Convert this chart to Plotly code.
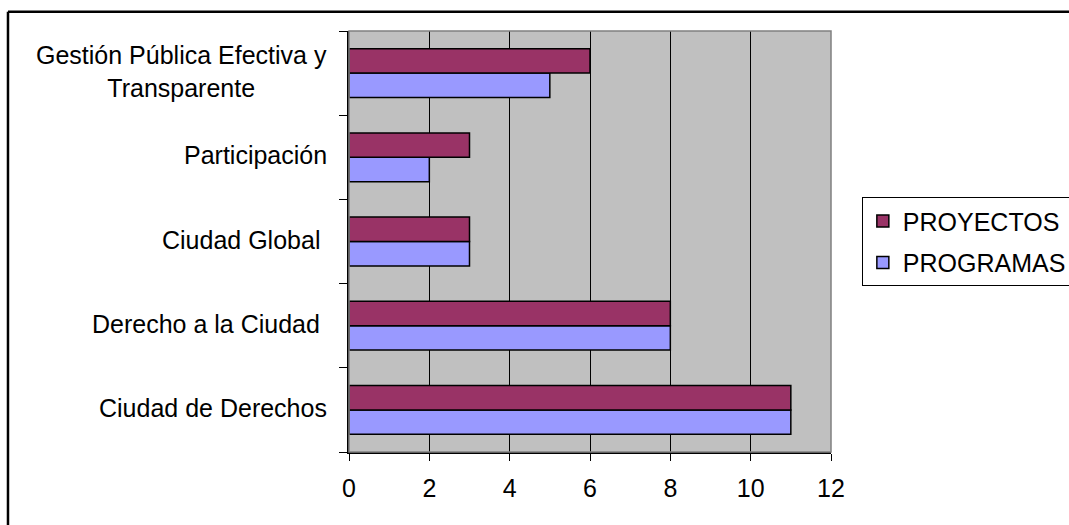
import plotly.graph_objects as go

categories = ["Ciudad de Derechos", "Derecho a la Ciudad\u00a0", "Ciudad Global\u00a0",
              "Participación", "Gestión Pública Efectiva y<br>Transparente"]
programas = [11, 8, 3, 2, 5]
proyectos = [11, 8, 3, 3, 6]
x_ticks = [0, 2, 4, 6, 8, 10, 12]

FONT = "Arial, Liberation Sans, sans-serif"
FS = 25

fig = go.Figure()
fig.add_trace(go.Bar(y=categories, x=programas, orientation="h", name="PROGRAMAS",
                     legendgroup="b", legendrank=2,
                     marker=dict(color="#9999FF", line=dict(color="black", width=1.5))))
fig.add_trace(go.Bar(y=categories, x=proyectos, orientation="h", name="PROYECTOS",
                     legendgroup="a", legendrank=1,
                     marker=dict(color="#993366", line=dict(color="black", width=1.5))))

# category labels as centred annotations
annotations = []
for c in categories:
    annotations.append(dict(x=0, xref="paper", y=c, yref="y", text=c,
                            xanchor="right", yanchor="middle", align="center",
                            xshift=-20, yshift=2, showarrow=False,
                            font=dict(family=FONT, size=FS, color="black")))

# plot frame (gray) and outer chart border
shapes = [
    dict(type="rect", xref="x domain", yref="y domain", x0=0, x1=1, y0=0, y1=1,
         line=dict(color="#808080", width=1.5), fillcolor="rgba(0,0,0,0)", layer="above"),
    dict(type="line", xref="paper", yref="paper", x0=-0.7075, x1=1.6, y0=1.046, y1=1.046,
         line=dict(color="black", width=2.5)),
    dict(type="line", xref="paper", yref="paper", x0=-0.7075, x1=-0.7075, y0=1.046, y1=-0.5,
         line=dict(color="black", width=2.5)),
]

fig.update_layout(
    width=1069, height=525,
    margin=dict(l=349, r=238, t=31, b=73, autoexpand=False),
    paper_bgcolor="white", plot_bgcolor="#C0C0C0",
    barmode="group", bargap=0.42, bargroupgap=0,
    font=dict(family=FONT, size=FS, color="black"),
    showlegend=True,
    legend=dict(x=1.064, xanchor="left", y=0.605, yanchor="top",
                traceorder="grouped", tracegroupgap=6,
                bordercolor="black", borderwidth=1, bgcolor="white",
                font=dict(family=FONT, size=FS, color="black")),
    annotations=annotations,
    shapes=shapes,
)
fig.update_xaxes(range=[0, 12], tickvals=x_ticks, ticktext=[str(v) for v in x_ticks],
                 showgrid=True, gridcolor="black", gridwidth=1, zeroline=False,
                 showline=True, linecolor="black", linewidth=1.5,
                 ticks="outside", ticklen=7, tickcolor="black", tickwidth=1,
                 ticklabelstandoff=6, tickfont=dict(family=FONT, size=FS, color="black"))
fig.update_yaxes(categoryorder="array", categoryarray=categories,
                 showgrid=False, zeroline=False, showticklabels=False,
                 showline=True, linecolor="black", linewidth=1.5,
                 ticks="outside", ticklen=8, tickcolor="black", tickson="boundaries")

fig.write_html("out.html")
